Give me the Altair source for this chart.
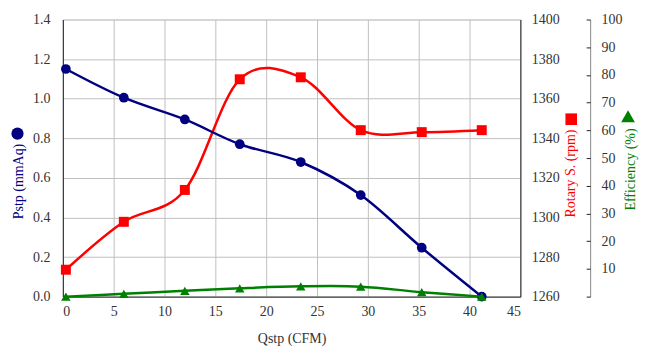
import altair as alt
import pandas as pd

# Data
qstp = [0.3, 6.0, 12.0, 17.4, 23.4, 29.3, 35.3, 41.2]
pstp = [1.15, 1.005, 0.895, 0.77, 0.68, 0.513, 0.247, 0.0]
rotary = [1273.6, 1297.8, 1313.9, 1369.8, 1370.8, 1344.1, 1343.1, 1344.1]
efficiency = [0.0, 1.0, 2.1, 3.0, 3.7, 3.6, 1.6, 0.0]
series_names = ["Pstp", "Rotary S.", "Efficiency"]

x_ticks = [0, 5, 10, 15, 20, 25, 30, 35, 40, 45]
p_ticks = [0.0, 0.2, 0.4, 0.6, 0.8, 1.0, 1.2, 1.4]
r_ticks = [1260, 1280, 1300, 1320, 1340, 1360, 1380, 1400]
e_ticks = [0, 10, 20, 30, 40, 50, 60, 70, 80, 90, 100]

df = pd.DataFrame({"qstp": qstp, "pstp": pstp, "rotary": rotary, "eff": efficiency})

FONT = "Liberation Serif"
NAVY = "#000080"
RED = "#FF0000"
GREEN = "#008000"
LABEL = "#333333"
PLOT_W = 459
PLOT_H = 278
EFF_OFFSET = 70

x_enc = alt.X(
    "qstp:Q",
    scale=alt.Scale(domain=[0, 45], nice=False, zero=False),
    axis=alt.Axis(
        values=x_ticks, format="d", title="Qstp (CFM)", grid=True, gridColor="#c0c0c0",
        ticks=False, domainColor="#222222", labelFont=FONT, labelFontSize=14,
        labelColor=LABEL, labelPadding=8, titleFont=FONT, titleFontSize=14,
        titleFontWeight="normal", titleColor=LABEL, titlePadding=13,
    ),
)

base = alt.Chart(df)


def marker_legend(x, y, color, size):
    return alt.Legend(
        orient="none", legendX=x, legendY=y, title=None, labelExpr="''",
        labelFontSize=1, symbolFillColor=color, symbolStrokeColor=color,
        symbolStrokeWidth=0, symbolSize=size, padding=0, symbolOffset=0,
        labelOffset=0, rowPadding=0,
    )


# Pstp series
p_y = alt.Y(
    "pstp:Q",
    scale=alt.Scale(domain=[0, 1.4], nice=False),
    axis=alt.Axis(
        values=p_ticks, format=".1f", grid=True, gridColor="#c0c0c0",
        ticks=False, domainColor="#222222", labelFont=FONT, labelFontSize=14,
        labelColor=LABEL, labelPadding=13, title="Pstp (mmAq)",
        titleFont=FONT, titleFontSize=14, titleFontWeight="normal",
        titleColor=NAVY, titlePadding=7, titleY=162,
    ),
)
p_layer = alt.layer(
    base.mark_line(color=NAVY, strokeWidth=2.5, interpolate="cardinal", tension=0).encode(x=x_enc, y=p_y),
    base.mark_point(shape="circle", filled=True, size=95, color=NAVY, opacity=1)
    .transform_calculate(series=f"'{series_names[0]}'")
    .encode(
        x=x_enc, y=p_y,
        shape=alt.Shape("series:N", scale=alt.Scale(domain=[series_names[0]], range=["circle"]),
                        legend=marker_legend(-52, 108, NAVY, 150)),
    ),
)

# Rotary speed series
r_y = alt.Y(
    "rotary:Q",
    scale=alt.Scale(domain=[1260, 1400], nice=False, zero=False),
    axis=alt.Axis(
        orient="right", values=r_ticks, format="d", grid=False, ticks=False,
        domainColor="#222222", labelFont=FONT, labelFontSize=14,
        labelColor=LABEL, labelPadding=11, title="Rotary S. (rpm)",
        titleAngle=270, titleBaseline="top", titleFont=FONT, titleFontSize=14,
        titleFontWeight="normal", titleColor=RED, titlePadding=4, titleY=154,
    ),
)
r_layer = alt.layer(
    base.mark_line(color=RED, strokeWidth=2.5, interpolate="cardinal", tension=0).encode(x=x_enc, y=r_y),
    base.mark_point(shape="square", filled=True, size=100, color=RED, opacity=1)
    .transform_calculate(series=f"'{series_names[1]}'")
    .encode(
        x=x_enc, y=r_y,
        shape=alt.Shape("series:N", scale=alt.Scale(domain=[series_names[1]], range=["square"]),
                        legend=marker_legend(504, 94, RED, 135)),
    ),
)

# Efficiency series
e_y = alt.Y(
    "eff:Q",
    scale=alt.Scale(domain=[0, 100], nice=False),
    axis=alt.Axis(
        orient="right", offset=EFF_OFFSET, values=e_ticks,
        labelExpr="datum.value == 0 ? '' : datum.label",
        grid=False, ticks=False,
        domainColor="#888888", labelFont=FONT, labelFontSize=14,
        labelColor=LABEL, labelPadding=11, title="Efficiency (%)",
        titleAngle=270, titleBaseline="top", titleFont=FONT, titleFontSize=14,
        titleFontWeight="normal", titleColor=GREEN, titlePadding=1, titleY=150,
    ),
)
e_layer = alt.layer(
    base.mark_line(color=GREEN, strokeWidth=2.5, interpolate="cardinal", tension=0).encode(x=x_enc, y=e_y),
    base.mark_point(shape="triangle-up", filled=True, size=90, color=GREEN, opacity=1)
    .transform_calculate(series=f"'{series_names[2]}'")
    .encode(
        x=x_enc, y=e_y,
        shape=alt.Shape("series:N", scale=alt.Scale(domain=[series_names[2]], range=["triangle-up"]),
                        legend=marker_legend(560, 90, GREEN, 190)),
    ),
)

# Inward-pointing tick marks for the efficiency axis (same scale, ticks only)
e_tick_y = alt.Y(
    "eff:Q",
    scale=alt.Scale(domain=[0, 100], nice=False),
    axis=alt.Axis(
        orient="left", offset=-(PLOT_W + EFF_OFFSET), values=e_ticks,
        labels=False, domain=False, grid=False, ticks=True, tickSize=4,
        tickColor="#222222", title=None,
    ),
)
e_tick_layer = base.mark_point(opacity=0).encode(x=x_enc, y=e_tick_y)

chart = (
    alt.layer(r_layer, p_layer, e_layer, e_tick_layer)
    .resolve_scale(y="independent", shape="independent")
    .resolve_legend(shape="independent")
    .properties(width=PLOT_W, height=PLOT_H, padding={"left": 3, "top": 4, "right": 2, "bottom": 2})
    .configure_view(stroke=None)
    .configure_axis(labelFont=FONT, titleFont=FONT)
    .configure(background="white", font=FONT,
               style={"guide-label": {"font": FONT}, "guide-title": {"font": FONT}})
)

chart.save("out.html", embed_options={"renderer": "svg", "actions": False})
